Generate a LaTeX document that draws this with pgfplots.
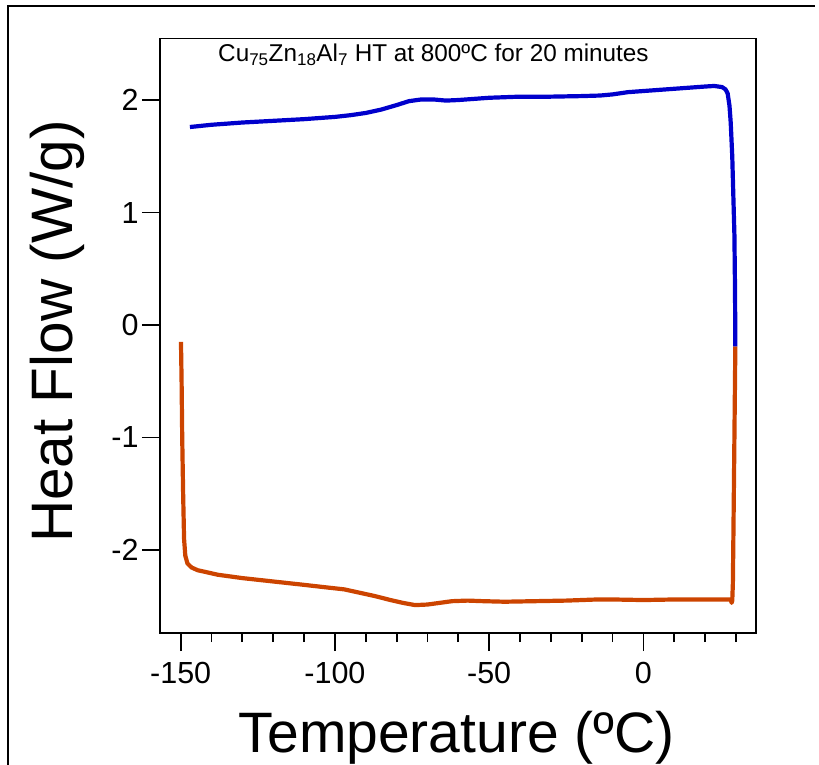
\documentclass[border=0pt]{standalone}
\usepackage{fontspec}
\setmainfont{Liberation Sans}
\usepackage{pgfplots}
\pgfplotsset{compat=1.18}
\definecolor{heatblue}{RGB}{0,0,204}
\definecolor{coolorange}{RGB}{204,68,0}

\begin{document}
\begin{tikzpicture}
\useasboundingbox (-160pt,-132pt) rectangle (659pt,633pt);
\begin{axis}[
  scale only axis,width=595.7pt,height=594.5pt,
  xmin=-156.7,xmax=36.4,ymin=-2.738,ymax=2.547,
  axis line style={line width=1.8pt},
  xtick={-150,-100,-50,0},xticklabels={-150,-100,-50,0},
  minor xtick={-140,-130,...,30},
  ytick={-2,-1,0,1,2},yticklabels={-2,-1,0,1,2},
  tick align=outside,tick pos=left,
  major tick length=18pt,minor tick length=9pt,
  every tick/.style={black,line width=1.8pt},
  tick label style={font=\fontsize{30.5}{36}\selectfont},
  xticklabel style={yshift=-8pt},
  xlabel={Temperature (ºC)},
  ylabel={Heat Flow (W/g)},
  xlabel style={font=\fontsize{57}{68}\selectfont,
    at={(axis description cs:0.498,-0.2018)},anchor=base},
  ylabel style={font=\fontsize{58.5}{70}\selectfont,
    at={(axis description cs:-0.1477,0.507)},anchor=base},
]
\addplot[coolorange,line width=4.2pt,line join=round] coordinates {
  (29.8,-0.19) (29.5,-1.0) (29.2,-1.8) (29.0,-2.3) (28.8,-2.45) (28.6,-2.47)
  (28.3,-2.44) (20,-2.44) (10,-2.44) (0,-2.445) (-10,-2.44) (-15,-2.44)
  (-25,-2.45) (-35,-2.455) (-45,-2.46) (-52,-2.455) (-57,-2.45) (-62,-2.455)
  (-66,-2.47) (-70,-2.485) (-74,-2.49) (-78,-2.47) (-82,-2.445) (-87,-2.41)
  (-92,-2.38) (-97,-2.35) (-102,-2.335) (-110,-2.31) (-120,-2.28) (-130,-2.25)
  (-138,-2.22) (-142,-2.195) (-144.5,-2.18) (-146.5,-2.155) (-147.8,-2.12)
  (-148.5,-2.05) (-148.9,-1.9) (-149.2,-1.5) (-149.5,-1.0) (-149.7,-0.5)
  (-149.9,-0.15)
};
\addplot[heatblue,line width=4.2pt,line join=round] coordinates {
  (-147,1.76) (-140,1.78) (-130,1.80) (-120,1.815) (-110,1.83) (-100,1.85)
  (-95,1.865) (-90,1.885) (-85,1.915) (-80,1.955) (-76,1.99) (-72,2.005)
  (-68,2.005) (-64,1.995) (-60,2.0) (-55,2.01) (-50,2.02) (-40,2.03)
  (-30,2.03) (-20,2.035) (-14,2.04) (-10,2.05) (-5,2.07) (0,2.08) (10,2.10)
  (20,2.12) (23,2.125) (25.5,2.115) (26.6,2.095) (27.3,2.06) (27.9,1.95)
  (28.3,1.8) (28.8,1.5) (29.2,1.1) (29.5,0.8) (29.7,0.3) (29.8,-0.19)
};
\node[anchor=base west,inner sep=0pt,font=\fontsize{24.3}{29}\selectfont]
  at (rel axis cs:0.0974,0.961)
  {Cu\textsubscript{75}Zn\textsubscript{18}Al\textsubscript{7} HT at 800ºC for 20 minutes};
\end{axis}
\draw[line width=1.5pt] (-152pt,-200pt) -- (-152pt,627pt) -- (655pt,627pt);
\end{tikzpicture}
\end{document}
